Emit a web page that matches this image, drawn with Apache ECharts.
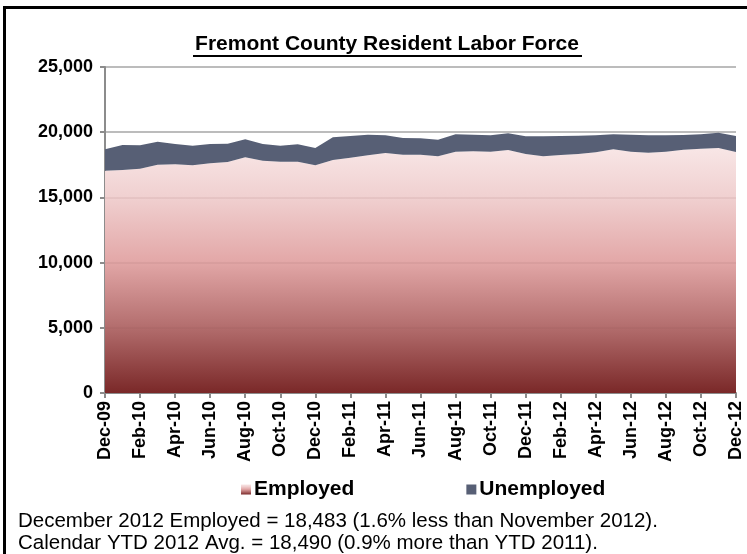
<!DOCTYPE html>
<html><head><meta charset="utf-8">
<script src="https://cdn.jsdelivr.net/npm/echarts@6/dist/echarts.min.js"></script>
<style>html,body{margin:0;padding:0;background:#fff}#c{width:747px;height:554px}</style>
</head><body><div id="c"></div>
<script>
const categories = ["Dec-09","Jan-10","Feb-10","Mar-10","Apr-10","May-10","Jun-10","Jul-10","Aug-10","Sep-10","Oct-10","Nov-10","Dec-10","Jan-11","Feb-11","Mar-11","Apr-11","May-11","Jun-11","Jul-11","Aug-11","Sep-11","Oct-11","Nov-11","Dec-11","Jan-12","Feb-12","Mar-12","Apr-12","May-12","Jun-12","Jul-12","Aug-12","Sep-12","Oct-12","Nov-12","Dec-12"];
const employed = [17050,17100,17200,17510,17540,17460,17610,17710,18070,17810,17740,17740,17460,17870,18050,18230,18400,18280,18280,18150,18510,18530,18510,18630,18330,18150,18250,18330,18460,18690,18510,18430,18510,18660,18730,18783,18483];
const unemployed = [1640,1920,1800,1760,1550,1510,1480,1410,1380,1280,1230,1330,1330,1740,1660,1580,1360,1270,1250,1280,1330,1280,1250,1290,1360,1540,1460,1400,1300,1150,1300,1330,1250,1130,1110,1180,1230];
const gridValues = [5000,10000,15000];
const titleText = "Fremont County Resident Labor Force";
const note1 = "December 2012 Employed = 18,483 (1.6% less than November 2012).";
const note2 = "Calendar YTD 2012 Avg. = 18,490 (0.9% more than YTD 2011).";

const chart = echarts.init(document.getElementById('c'), null, {renderer:'canvas'});
const FONT = '"Liberation Sans", Arial, sans-serif';
const empGrad = new echarts.graphic.LinearGradient(0,0,0,1,[
  {offset:0,color:'#f8e6e6'},{offset:0.2,color:'#f0d0d0'},{offset:0.46,color:'#e3a8a8'},
  {offset:0.72,color:'#b57070'},{offset:1,color:'#7a2828'}]);
chart.setOption({
  animation:false,
  backgroundColor:'#fff',
  grid:{left:105,right:11,top:67,bottom:161,containLabel:false},
  legend:{left:236,top:474,itemWidth:10,itemHeight:10,itemGap:112,icon:'rect',
    textStyle:{fontFamily:FONT,fontWeight:'bold',fontSize:21,color:'#000',padding:[0,0,0,-2]},
    data:['Employed','Unemployed']},
  xAxis:{type:'category',data:categories,boundaryGap:false,
    axisLine:{lineStyle:{color:'#8c8c8c',width:2}},
    axisTick:{show:true,interval:1,length:5,lineStyle:{color:'#8c8c8c',width:2}},
    axisLabel:{interval:1,rotate:90,fontFamily:FONT,fontWeight:'bold',fontSize:18,color:'#000',margin:8}},
  yAxis:{type:'value',min:0,max:25000,interval:5000,
    axisLine:{show:true,lineStyle:{color:'#8c8c8c',width:2}},
    axisTick:{show:true,length:5,lineStyle:{color:'#8c8c8c',width:2}},
    splitLine:{lineStyle:{color:'#a6a6a6',width:1.5}},
    axisLabel:{fontFamily:FONT,fontWeight:'bold',fontSize:18,color:'#000',margin:12,
      formatter:v=>v.toLocaleString('en-US')}},
  series:[
    {name:'Employed',type:'line',stack:'lf',data:employed,showSymbol:false,
      lineStyle:{width:0},itemStyle:{color:empGrad},areaStyle:{color:empGrad,opacity:1},
      markLine:{silent:true,symbol:'none',label:{show:false},
        lineStyle:{color:'rgba(140,80,80,0.12)',width:1.5,type:'solid'},
        data:gridValues.map(v=>({yAxis:v}))}},
    {name:'Unemployed',type:'line',stack:'lf',data:unemployed,showSymbol:false,
      lineStyle:{width:0},itemStyle:{color:'#575f75'},areaStyle:{color:'#575f75',opacity:1}}
  ],
  graphic:[
    {type:'rect',shape:{x:4.5,y:7.5,width:800,height:700},style:{fill:null,stroke:'#000',lineWidth:3},silent:true},
    {type:'text',x:387,y:34,style:{text:titleText,font:'bold 21px '+FONT,fill:'#000',textAlign:'center',textVerticalAlign:'top'}},
    {type:'line',shape:{x1:193,y1:56,x2:582,y2:56},style:{stroke:'#000',lineWidth:2}},
    {type:'text',x:18,y:511,style:{text:note1,font:'20.5px '+FONT,fill:'#000',textVerticalAlign:'top'}},
    {type:'text',x:18,y:533,style:{text:note2,font:'20.5px '+FONT,fill:'#000',textVerticalAlign:'top'}}
  ]
});
</script></body></html>
